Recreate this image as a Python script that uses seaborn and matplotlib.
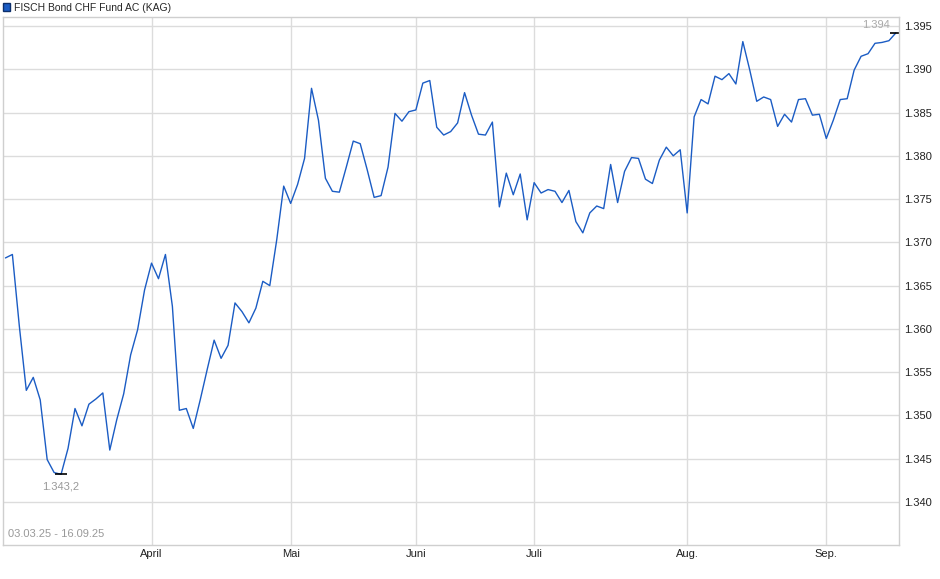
import pandas as pd
import matplotlib
matplotlib.use("Agg")
import matplotlib.pyplot as plt
import seaborn as sns
from matplotlib.patches import Patch

fund_name = "FISCH Bond CHF Fund AC (KAG)"
range_label = "03.03.25 - 16.09.25"
min_label = "1.343,2"

missing_days = ["2025-04-18", "2025-04-21", "2025-05-01", "2025-05-02",
                "2025-05-29", "2025-05-30", "2025-06-09", "2025-06-19",
                "2025-06-20", "2025-06-30", "2025-07-14", "2025-08-01",
                "2025-09-08"]

values_mar = [1.3682, 1.3686, 1.3603, 1.3529, 1.3544, 1.3518, 1.3449, 1.3434,
              1.3432, 1.3462, 1.3508, 1.3488, 1.3513, 1.3519, 1.3526, 1.3460,
              1.3495, 1.3525, 1.3570, 1.3599, 1.3645]
values_apr = [1.3676, 1.3658, 1.3686, 1.3626, 1.3506, 1.3508, 1.3485, 1.3518,
              1.3553, 1.3587, 1.3566, 1.3581, 1.3630, 1.3620, 1.3607, 1.3624,
              1.3655, 1.3650, 1.3703, 1.3765]
values_may = [1.3745, 1.3767, 1.3797, 1.3878, 1.3841, 1.3774, 1.3759, 1.3758,
              1.3787, 1.3817, 1.3814, 1.3784, 1.3752, 1.3754, 1.3787, 1.3849,
              1.3840, 1.3851]
values_jun = [1.3853, 1.3884, 1.3887, 1.3833, 1.3824, 1.3828, 1.3838, 1.3873,
              1.3847, 1.3825, 1.3824, 1.3839, 1.3741, 1.3780, 1.3755, 1.3779,
              1.3726]
values_jul = [1.3769, 1.3757, 1.3761, 1.3759, 1.3746, 1.3760, 1.3724, 1.3711,
              1.3734, 1.3742, 1.3739, 1.3790, 1.3746, 1.3782, 1.3798, 1.3797,
              1.3773, 1.3768, 1.3795, 1.3810, 1.3800, 1.3807]
values_aug = [1.3734, 1.3845, 1.3865, 1.3860, 1.3892, 1.3888, 1.3895, 1.3883,
              1.3932, 1.3899, 1.3863, 1.3868, 1.3865, 1.3834, 1.3848, 1.3839,
              1.3865, 1.3866, 1.3847, 1.3848]
values_sep = [1.3820, 1.3841, 1.3865, 1.3866, 1.3899, 1.3915, 1.3918, 1.3930,
              1.3931, 1.3933, 1.3942]

month_labels = ["April", "Mai", "Juni", "Juli", "Aug.", "Sep."]
y_ticks = [1.340, 1.345, 1.350, 1.355, 1.360, 1.365, 1.370, 1.375,
           1.380, 1.385, 1.390, 1.395]

values = (values_mar + values_apr + values_may + values_jun
          + values_jul + values_aug + values_sep)
dates = pd.bdate_range("2025-03-03", "2025-09-16")
dates = dates[~dates.isin(pd.to_datetime(missing_days))]

df = pd.DataFrame({"datum": dates, "kurs": values})
df["pos"] = range(len(df))

sns.set_style("white")
plt.rcParams["font.family"] = ["Liberation Sans", "DejaVu Sans"]

line_color = "#1b5cc4"
grid_color = "#dcdcdc"

fig = plt.figure(figsize=(9.4, 5.79), dpi=100)
ax = fig.add_axes([3 / 940, 1 - 545 / 579, 896 / 940, 528 / 579])

sns.lineplot(data=df, x="pos", y="kurs", color=line_color, linewidth=1.0, ax=ax)

# Monatsanfang als x-Ticks
month_start = df.groupby(df["datum"].dt.month)["pos"].min().iloc[1:]
ax.set_xticks(month_start.values)
ax.set_xticklabels(month_labels)
ax.set_yticks(y_ticks)
ax.set_yticklabels([f"{t:.3f}" for t in y_ticks])
ax.yaxis.tick_right()

ax.set_xlim(-0.35, len(df) - 1 + 0.45)
ax.set_ylim(1.33503, 1.39604)
ax.set_xlabel("")
ax.set_ylabel("")

ax.grid(True, color=grid_color, linewidth=1.0)
ax.tick_params(axis="both", length=0, labelsize=8, colors="#222222")
ax.tick_params(axis="x", pad=3)
ax.tick_params(axis="y", pad=4)
for sp in ax.spines.values():
    sp.set_color("#cfcfcf")
    sp.set_linewidth(1.0)

# Min / letzter Wert markieren
i_min = df["kurs"].idxmin()
ax.plot(df["pos"][i_min], df["kurs"][i_min], marker="_", markersize=9,
        color="black", markeredgewidth=1.2)
ax.annotate(min_label, (df["pos"][i_min], df["kurs"][i_min]),
            xytext=(0, -5), textcoords="offset points", ha="center", va="top",
            fontsize=8, color="#999999")
last = df.iloc[-1]
ax.plot(last["pos"], last["kurs"], marker="_", markersize=8,
        color="black", markeredgewidth=1.2)
ax.annotate(f"{last['kurs']:.3f}", (last["pos"], last["kurs"]),
            xytext=(-4, 6), textcoords="offset points", ha="right", va="center",
            fontsize=8, color="#aaaaaa")

ax.text(0.006, 0.012, range_label, transform=ax.transAxes, ha="left",
        va="bottom", fontsize=8, color="#999999")

fig.legend(handles=[Patch(facecolor=line_color, edgecolor="#0d2f6b", label=fund_name)],
           loc="upper left", bbox_to_anchor=(0.0, 1.0), frameon=False,
           fontsize=7.5, handlelength=0.7, handleheight=0.7, handletextpad=0.4,
           borderaxespad=0.0, borderpad=0.25)

fig.savefig("out.png", dpi=100)
